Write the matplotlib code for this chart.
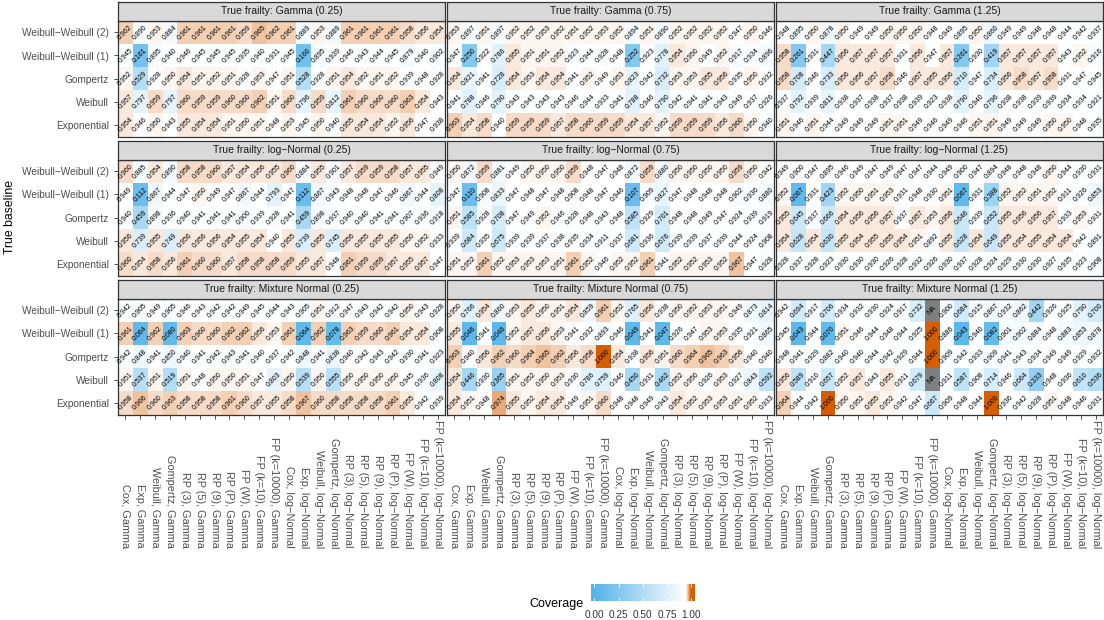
import numpy as np
import matplotlib
matplotlib.use("Agg")
import matplotlib.pyplot as plt
from matplotlib.colors import LinearSegmentedColormap
from matplotlib.transforms import blended_transform_factory

plt.rcParams['font.family'] = ['Liberation Sans', 'DejaVu Sans']

NA = np.nan

baselines = ["Weibull−Weibull (2)", "Weibull−Weibull (1)", "Gompertz", "Weibull", "Exponential"]
models = ["Cox", "Exp", "Weibull", "Gompertz", "RP (3)", "RP (5)", "RP (9)", "RP (P)",
          "FP (W)", "FP (k=10)", "FP (k=10000)"]
fits = ["Gamma", "log−Normal"]
methods = [f"{m}, {f}" for f in fits for m in models]

frailties = ["Gamma", "log−Normal", "Mixture Normal"]
variances = ["0.25", "0.75", "1.25"]

# rows: WW (2), WW (1), Gompertz, Weibull, Exponential ; 22 methods each
gamma_025 = [
    [0.962, 0.890, 0.953, 0.884, 0.961, 0.961, 0.961, 0.961, 0.959, 0.965, 0.962, 0.961, 0.889, 0.953, 0.889, 0.961, 0.961, 0.961, 0.961, 0.958, 0.956, 0.954],
    [0.945, 0.161, 0.895, 0.940, 0.946, 0.945, 0.945, 0.945, 0.935, 0.940, 0.931, 0.945, 0.160, 0.895, 0.939, 0.946, 0.943, 0.944, 0.945, 0.879, 0.940, 0.902],
    [0.952, 0.529, 0.928, 0.950, 0.954, 0.951, 0.952, 0.951, 0.928, 0.953, 0.947, 0.951, 0.528, 0.928, 0.951, 0.954, 0.952, 0.951, 0.952, 0.939, 0.948, 0.928],
    [0.957, 0.797, 0.959, 0.797, 0.960, 0.959, 0.959, 0.960, 0.960, 0.962, 0.951, 0.960, 0.796, 0.959, 0.812, 0.961, 0.960, 0.960, 0.960, 0.963, 0.954, 0.943],
    [0.954, 0.946, 0.950, 0.943, 0.955, 0.954, 0.954, 0.951, 0.950, 0.951, 0.948, 0.953, 0.945, 0.950, 0.940, 0.955, 0.954, 0.954, 0.952, 0.956, 0.947, 0.938],
]
gamma_075 = [
    [0.953, 0.897, 0.951, 0.897, 0.952, 0.952, 0.953, 0.952, 0.951, 0.952, 0.953, 0.952, 0.894, 0.951, 0.890, 0.952, 0.952, 0.952, 0.952, 0.947, 0.950, 0.946],
    [0.947, 0.250, 0.922, 0.786, 0.955, 0.951, 0.951, 0.952, 0.923, 0.944, 0.928, 0.948, 0.252, 0.923, 0.778, 0.954, 0.950, 0.949, 0.952, 0.917, 0.934, 0.896],
    [0.954, 0.821, 0.941, 0.728, 0.954, 0.953, 0.954, 0.954, 0.941, 0.952, 0.949, 0.953, 0.823, 0.942, 0.732, 0.953, 0.953, 0.955, 0.956, 0.935, 0.950, 0.932],
    [0.941, 0.788, 0.946, 0.790, 0.943, 0.943, 0.943, 0.943, 0.946, 0.944, 0.933, 0.941, 0.788, 0.946, 0.790, 0.942, 0.941, 0.941, 0.943, 0.949, 0.937, 0.926],
    [0.963, 0.954, 0.958, 0.940, 0.959, 0.959, 0.959, 0.957, 0.958, 0.960, 0.959, 0.959, 0.954, 0.957, 0.952, 0.959, 0.959, 0.959, 0.956, 0.960, 0.950, 0.940],
]
gamma_125 = [
    [0.948, 0.895, 0.950, 0.878, 0.950, 0.949, 0.949, 0.950, 0.950, 0.950, 0.948, 0.949, 0.895, 0.950, 0.860, 0.949, 0.949, 0.948, 0.948, 0.944, 0.942, 0.937],
    [0.958, 0.261, 0.931, 0.447, 0.956, 0.957, 0.957, 0.957, 0.931, 0.956, 0.947, 0.957, 0.261, 0.930, 0.419, 0.957, 0.957, 0.957, 0.957, 0.943, 0.952, 0.916],
    [0.958, 0.708, 0.946, 0.733, 0.956, 0.956, 0.957, 0.958, 0.946, 0.957, 0.955, 0.956, 0.710, 0.947, 0.734, 0.956, 0.958, 0.957, 0.958, 0.931, 0.947, 0.945],
    [0.937, 0.792, 0.939, 0.811, 0.938, 0.937, 0.938, 0.937, 0.938, 0.939, 0.923, 0.938, 0.790, 0.940, 0.796, 0.938, 0.938, 0.939, 0.939, 0.934, 0.934, 0.921],
    [0.951, 0.946, 0.951, 0.944, 0.949, 0.949, 0.949, 0.951, 0.951, 0.949, 0.946, 0.949, 0.946, 0.951, 0.951, 0.949, 0.949, 0.949, 0.950, 0.950, 0.948, 0.935],
]
lnorm_025 = [
    [0.960, 0.885, 0.954, 0.890, 0.958, 0.958, 0.960, 0.957, 0.954, 0.956, 0.955, 0.960, 0.884, 0.955, 0.901, 0.957, 0.959, 0.959, 0.958, 0.957, 0.955, 0.949],
    [0.949, 0.112, 0.867, 0.944, 0.947, 0.950, 0.949, 0.947, 0.867, 0.944, 0.793, 0.947, 0.112, 0.867, 0.943, 0.948, 0.948, 0.947, 0.946, 0.867, 0.944, 0.808],
    [0.940, 0.459, 0.898, 0.936, 0.940, 0.941, 0.941, 0.941, 0.900, 0.939, 0.928, 0.941, 0.459, 0.898, 0.937, 0.940, 0.940, 0.941, 0.941, 0.907, 0.936, 0.918],
    [0.956, 0.739, 0.955, 0.749, 0.956, 0.956, 0.956, 0.954, 0.955, 0.954, 0.940, 0.955, 0.739, 0.955, 0.745, 0.956, 0.955, 0.955, 0.955, 0.950, 0.952, 0.933],
    [0.960, 0.954, 0.958, 0.956, 0.961, 0.960, 0.960, 0.957, 0.958, 0.958, 0.958, 0.959, 0.955, 0.957, 0.948, 0.961, 0.959, 0.959, 0.957, 0.955, 0.957, 0.947],
]
lnorm_075 = [
    [0.950, 0.872, 0.959, 0.881, 0.949, 0.950, 0.950, 0.950, 0.959, 0.948, 0.947, 0.948, 0.872, 0.959, 0.880, 0.950, 0.950, 0.950, 0.950, 0.959, 0.950, 0.942],
    [0.947, 0.110, 0.908, 0.833, 0.947, 0.948, 0.947, 0.948, 0.908, 0.948, 0.947, 0.946, 0.107, 0.909, 0.827, 0.947, 0.948, 0.948, 0.948, 0.902, 0.936, 0.880],
    [0.951, 0.585, 0.928, 0.708, 0.947, 0.949, 0.952, 0.946, 0.928, 0.948, 0.943, 0.948, 0.585, 0.929, 0.701, 0.948, 0.948, 0.949, 0.947, 0.924, 0.939, 0.919],
    [0.939, 0.684, 0.935, 0.675, 0.939, 0.939, 0.937, 0.938, 0.935, 0.934, 0.911, 0.937, 0.681, 0.936, 0.676, 0.939, 0.939, 0.937, 0.939, 0.944, 0.924, 0.908],
    [0.951, 0.952, 0.961, 0.952, 0.953, 0.953, 0.953, 0.951, 0.961, 0.952, 0.946, 0.952, 0.952, 0.961, 0.941, 0.952, 0.952, 0.953, 0.952, 0.967, 0.947, 0.928],
]
lnorm_125 = [
    [0.949, 0.900, 0.947, 0.895, 0.946, 0.949, 0.947, 0.949, 0.947, 0.947, 0.944, 0.949, 0.900, 0.947, 0.894, 0.948, 0.948, 0.948, 0.950, 0.944, 0.930, 0.931],
    [0.952, 0.067, 0.931, 0.423, 0.952, 0.950, 0.951, 0.953, 0.931, 0.948, 0.930, 0.951, 0.067, 0.931, 0.388, 0.952, 0.952, 0.951, 0.952, 0.911, 0.926, 0.853],
    [0.955, 0.645, 0.937, 0.666, 0.954, 0.956, 0.956, 0.957, 0.937, 0.957, 0.953, 0.956, 0.646, 0.939, 0.652, 0.955, 0.956, 0.956, 0.957, 0.933, 0.953, 0.931],
    [0.954, 0.628, 0.954, 0.630, 0.955, 0.954, 0.955, 0.955, 0.954, 0.951, 0.892, 0.955, 0.628, 0.954, 0.649, 0.955, 0.954, 0.955, 0.954, 0.954, 0.942, 0.891],
    [0.928, 0.937, 0.928, 0.923, 0.930, 0.930, 0.930, 0.926, 0.928, 0.932, 0.926, 0.930, 0.937, 0.928, 0.924, 0.929, 0.930, 0.930, 0.927, 0.935, 0.923, 0.908],
]
mixn_025 = [
    [0.942, 0.905, 0.949, 0.905, 0.946, 0.943, 0.942, 0.942, 0.949, 0.945, 0.944, 0.943, 0.905, 0.951, 0.912, 0.947, 0.943, 0.942, 0.942, 0.950, 0.943, 0.928],
    [0.961, 0.064, 0.962, 0.080, 0.963, 0.960, 0.960, 0.962, 0.962, 0.956, 0.953, 0.961, 0.064, 0.962, 0.078, 0.963, 0.959, 0.960, 0.961, 0.954, 0.954, 0.908],
    [0.942, 0.848, 0.941, 0.850, 0.940, 0.941, 0.942, 0.943, 0.941, 0.940, 0.937, 0.942, 0.848, 0.941, 0.838, 0.940, 0.942, 0.943, 0.942, 0.930, 0.941, 0.923],
    [0.951, 0.537, 0.951, 0.519, 0.951, 0.948, 0.950, 0.950, 0.951, 0.947, 0.803, 0.950, 0.539, 0.950, 0.555, 0.950, 0.950, 0.950, 0.950, 0.945, 0.936, 0.808],
    [0.958, 0.966, 0.960, 0.963, 0.958, 0.958, 0.958, 0.961, 0.960, 0.957, 0.955, 0.958, 0.967, 0.960, 0.958, 0.958, 0.958, 0.958, 0.961, 0.955, 0.942, 0.939],
]
mixn_075 = [
    [0.950, 0.766, 0.954, 0.860, 0.953, 0.955, 0.950, 0.951, 0.954, 0.859, 0.961, 0.952, 0.765, 0.956, 0.938, 0.950, 0.952, 0.953, 0.951, 0.949, 0.873, 0.814],
    [0.955, 0.046, 0.941, 0.046, 0.952, 0.957, 0.956, 0.953, 0.941, 0.932, 0.893, 0.946, 0.049, 0.941, 0.047, 0.926, 0.947, 0.953, 0.953, 0.935, 0.921, 0.865],
    [0.963, 0.940, 0.956, 0.962, 0.960, 0.964, 0.965, 0.962, 0.956, 0.958, 1.000, 0.954, 0.938, 0.956, 0.951, 0.960, 0.964, 0.965, 0.963, 0.956, 0.940, 0.940],
    [0.954, 0.446, 0.930, 0.365, 0.951, 0.952, 0.950, 0.953, 0.930, 0.786, 0.759, 0.946, 0.450, 0.931, 0.462, 0.952, 0.950, 0.926, 0.953, 0.927, 0.843, 0.592],
    [0.954, 0.951, 0.948, 0.974, 0.955, 0.952, 0.954, 0.954, 0.949, 0.951, 0.960, 0.948, 0.948, 0.949, 0.943, 0.954, 0.952, 0.953, 0.953, 0.951, 0.952, 0.933],
]
mixn_125 = [
    [0.942, 0.694, 0.917, 0.706, 0.934, 0.932, 0.930, 0.924, 0.917, 0.732, NA, 0.900, 0.684, 0.915, 0.867, 0.932, 0.862, 0.442, 0.926, 0.925, 0.790, 0.700],
    [0.945, 0.043, 0.944, 0.070, 0.951, 0.946, 0.944, 0.948, 0.944, 0.925, 1.000, 0.886, 0.043, 0.940, 0.082, 0.901, 0.902, 0.884, 0.948, 0.883, 0.853, 0.878],
    [0.948, 0.941, 0.929, 0.882, 0.940, 0.940, 0.944, 0.942, 0.929, 0.944, 1.000, 0.909, 0.942, 0.933, 0.909, 0.941, 0.943, 0.934, 0.949, 0.949, 0.929, 0.932],
    [0.956, 0.589, 0.910, 0.657, 0.952, 0.957, 0.943, 0.955, 0.911, 0.679, NA, 0.911, 0.587, 0.908, 0.714, 0.946, 0.664, 0.333, 0.948, 0.936, 0.610, 0.536],
    [0.964, 0.944, 0.942, 1.000, 0.950, 0.952, 0.955, 0.952, 0.942, 0.947, 0.667, 0.909, 0.948, 0.944, 1.000, 0.936, 0.942, 0.928, 0.951, 0.948, 0.946, 0.931],
]

panels = [[gamma_025, gamma_075, gamma_125],
          [lnorm_025, lnorm_075, lnorm_125],
          [mixn_025, mixn_075, mixn_125]]

cmap = LinearSegmentedColormap.from_list(
    "cov", [(0.0, "#56B4E9"), (0.95, "#FFFFFF"), (1.0, "#D55E00")])
cmap.set_bad("#7F7F7F")

W, H = 1104, 620
fig = plt.figure(figsize=(W / 100, H / 100), dpi=100)


def box(x0, y0, w, h):
    return [x0 / W, 1 - (y0 + h) / H, w / W, h / H]


panel_left = [118, 447, 776]
panel_w = 327
panel_top = [20.7, 159.7, 298.7]
panel_h = 116
strip_h = 18.5
edge = "#333333"

for r, frailty in enumerate(frailties):
    for c, var in enumerate(variances):
        vals = np.array(panels[r][c], dtype=float)
        ax = fig.add_axes(box(panel_left[c], panel_top[r], panel_w, panel_h))
        ax.pcolormesh(np.arange(len(methods) + 1), np.arange(len(baselines) + 1),
                      np.ma.masked_invalid(vals), cmap=cmap, vmin=0, vmax=1)
        ax.set_xlim(0, len(methods))
        ax.set_ylim(len(baselines), 0)
        for i in range(len(baselines)):
            for j in range(len(methods)):
                v = vals[i, j]
                lab = "NA" if np.isnan(v) else f"{v:.3f}"
                ax.text(j + 0.5, i + 0.5, lab, rotation=45, ha="center", va="center",
                        fontsize=5, color="black")
        for s in ax.spines.values():
            s.set_color(edge)
            s.set_linewidth(0.9)
        ax.set_xticks(np.arange(len(methods)) + 0.5)
        ax.set_yticks(np.arange(len(baselines)) + 0.5)
        ax.tick_params(length=3, width=0.6, color=edge, labelsize=7.3, labelcolor="#4D4D4D")
        if c == 0:
            ax.set_yticklabels(baselines)
        else:
            ax.set_yticklabels([])
            ax.tick_params(left=False)
        ax.set_xticklabels([])
        if r == 2:
            tr = blended_transform_factory(ax.transData, fig.transFigure)
            for j, m in enumerate(methods):
                ax.text(j + 0.5, 1 - 548 / H, m, transform=tr, rotation=-90,
                        ha="center", va="bottom", fontsize=7.8, color="#4D4D4D")
        else:
            ax.tick_params(bottom=False)

        sax = fig.add_axes(box(panel_left[c], panel_top[r] - strip_h, panel_w, strip_h))
        sax.set_facecolor("#D9D9D9")
        sax.set_xticks([])
        sax.set_yticks([])
        for s in sax.spines.values():
            s.set_color(edge)
            s.set_linewidth(0.9)
        sax.text(0.5, 0.5, f"True frailty: {frailty} ({var})", ha="center", va="center",
                 fontsize=7.5, color="#1A1A1A", transform=sax.transAxes)

fig.text(10 / W, 1 - 217 / H, "True baseline", rotation=90, ha="center", va="center",
         fontsize=8.8)

# colour bar legend
lo, hi = -0.035, 1.04
cax = fig.add_axes(box(591, 584, 104, 17))
grad = np.clip(np.linspace(lo, hi, 400), 0, 1)
cax.imshow(grad[None, :], extent=[lo, hi, 0, 1], aspect="auto", cmap=cmap, vmin=0, vmax=1)
cax.set_xlim(lo, hi)
cax.set_ylim(0, 1)
cax.axis("off")
ticks = [0.0, 0.25, 0.5, 0.75, 1.0]
for t in ticks:
    cax.plot([t, t], [0, 0.2], color="white", lw=0.6)
    cax.plot([t, t], [0.8, 1], color="white", lw=0.6)
    fig.text((591 + (t - lo) / (hi - lo) * 104) / W, 1 - 615 / H, f"{t:.2f}",
             ha="center", va="center", fontsize=7.2, color="#333333")
fig.text(583 / W, 1 - 604 / H, "Coverage", ha="right", va="center", fontsize=9)

fig.savefig("out.png", dpi=100)
